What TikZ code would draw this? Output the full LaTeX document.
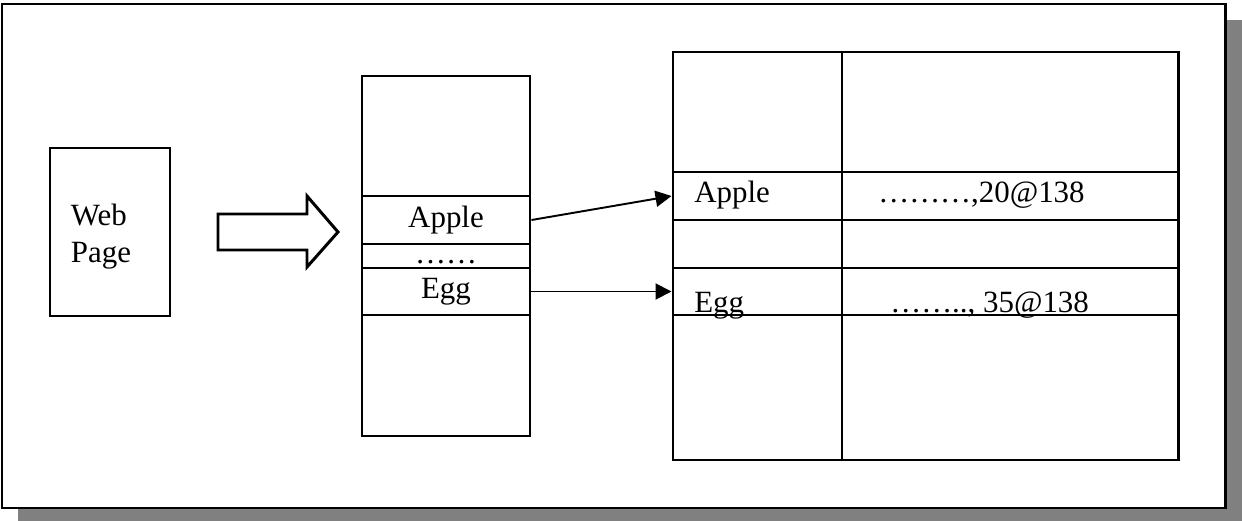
\documentclass[tikz,border=0pt]{standalone}
\usepackage{fontspec}
\setmainfont{Liberation Serif}
\usetikzlibrary{arrows.meta}
\newcommand{\pxu}{0.02cm}
\definecolor{shadow}{HTML}{808080}
\tikzset{
  frame/.style={draw, line width=1.7pt, fill=white},
  cell/.style={draw, line width=1.7pt, inner sep=0pt, text height=12pt, text depth=3.9pt},
  thin-cell/.style={cell, text height=10pt, text depth=2pt},
  grid/.style={line width=1.7pt},
  word/.style={inner sep=0pt},
  link/.style={-{Triangle[length=3.2mm, width=3.2mm]}, line width=1.1pt},
  fat-arrow/.style={draw, line width=1.7pt, line join=miter, fill=white}
}

\begin{document}
\begin{tikzpicture}[x=\pxu, y=-\pxu, font=\fontsize{17.6}{21}\selectfont]
  \useasboundingbox (0,0) rectangle (1242,521);

  % ---- Frame with drop shadow ----------------------------------------------
  \fill[shadow] (18,20) rectangle (1242,521);
  \draw[frame] (2,4) rectangle (1225,508);

  % ---- Page ------------------------------------------------------------------
  \node[cell, minimum width=120*\pxu, minimum height=168*\pxu] (page) at (110,232) {};
  \node[word, align=left] at (101,237) {Web\\Page};

  % ---- Fat arrow into the index ------------------------------------------------
  \draw[fat-arrow] (218,214) -- (307,214) -- (307,196) -- (338,232)
        -- (307,267) -- (307,250) -- (218,250) -- cycle;

  % ---- Index column ------------------------------------------------------------
  \node[cell, minimum width=168*\pxu, minimum height=360*\pxu] (index) at (446,256) {};
  \node[cell, minimum width=168*\pxu, minimum height=48*\pxu] (apple) at (446,220) {Apple};
  \node[thin-cell, minimum width=168*\pxu, minimum height=24*\pxu] (dots) at (446,256) {……};
  \node[cell, minimum width=168*\pxu, minimum height=47*\pxu] (egg)   at (446,291.5) {Egg};

  % ---- Posting table -----------------------------------------------------------
  \node[cell, minimum width=505*\pxu, minimum height=408*\pxu] (table) at (925.5,256) {};
  \draw[grid] (842,52) -- (842,460);
  \foreach \y in {172,220,268,315}
    \draw[grid] (673,\y) -- (1178,\y);
  \node[cell, minimum width=169*\pxu, minimum height=48*\pxu] (keyA) at (757.5,196) {};
  \node[cell, minimum width=169*\pxu, minimum height=47*\pxu] (keyE) at (757.5,291.5) {};

  \node[word, anchor=base west] at (694,202) {Apple};
  \node[word, anchor=base west] at (878,202) {………,20@138};
  \node[word, anchor=base west] at (694,312) {Egg};
  \node[word, anchor=base west] at (890,312) {…….., 35@138};

  % ---- Links from index entries to table rows ------------------------------------
  \draw[link] (apple.east) -- (keyA.west);
  \draw[link] (egg.east) -- (keyE.west);

\end{tikzpicture}
\end{document}
